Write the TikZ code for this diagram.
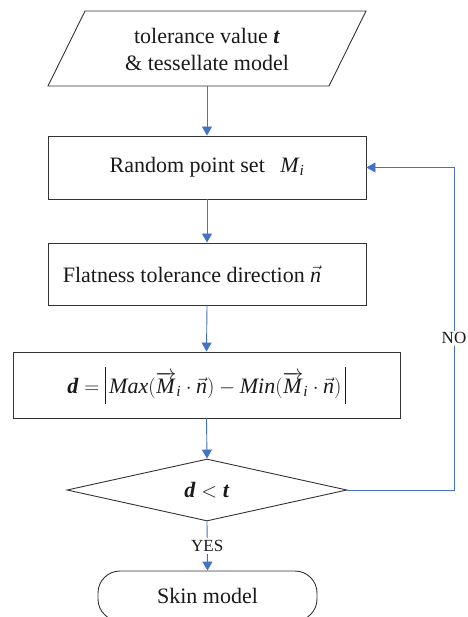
\documentclass[tikz,border=0pt]{standalone}
\usepackage{amsmath}
\usepackage{fontspec}
\setmainfont{Liberation Serif}
\usetikzlibrary{arrows.meta,shapes.geometric}
\definecolor{arrowblue}{HTML}{4472C4}
\definecolor{edgegray}{HTML}{333333}
\newcommand{\ti}[1]{\text{\textit{#1}}}
\newcommand{\tbi}[1]{\text{\textbf{\textit{#1}}}}
\newcommand{\absbar}{\rule[-10pt]{0.8pt}{37pt}}
\tikzset{
  box/.style={draw=edgegray, line width=0.9pt, inner sep=0pt, font=\fontsize{22}{27}\selectfont, text=black!90},
  flow/.style={draw=arrowblue, line width=0.9pt, -{Triangle[length=9pt,width=10pt]}},
  lbl/.style={fill=white, inner sep=2pt, font=\fontsize{17}{20}\selectfont, text=black!90}
}
\begin{document}
\begin{tikzpicture}[x=1pt,y=-1pt]
\useasboundingbox (0,0) rectangle (467,617);
\begin{scope}
\clip (0,0) rectangle (467,617);
% input parallelogram
\coordinate (p1) at (48,86);
\coordinate (p2) at (85,11);
\coordinate (p3) at (366,11);
\coordinate (p4) at (329,86);
\draw[draw=edgegray, line width=0.9pt] (p1) -- (p2) -- (p3) -- (p4) -- cycle;
\node[box, draw=none, align=center] (in) at (207,49) {tolerance value \textbf{\textit{t}}\\ \& tessellate model};
\coordinate (inb) at (207,86);
% boxes
\node[box, minimum width=318pt, minimum height=63pt] (b1) at (207,167.5) {Random point set\hspace{0.7em}$\ti{M}_{\ti{i}}$};
\node[box, minimum width=318pt, minimum height=62pt] (b2) at (207,274) {Flatness tolerance direction $\vec{\ti{n}}$\kern30pt};
\node[box, minimum width=387pt, minimum height=66pt] (b3) at (206.5,385)
  {$\tbi{d}=\absbar\,\ti{Max}(\overrightarrow{\ti{M}}_{\ti{i}}\cdot\vec{\ti{n}})-\ti{Min}(\overrightarrow{\ti{M}}_{\ti{i}}\cdot\vec{\ti{n}})\,\absbar$};
\node[box, diamond, minimum width=280pt, minimum height=62pt] (dia) at (207,490) {$\tbi{d}<\tbi{t}$};
\node[box, minimum width=219pt, minimum height=50pt, rounded corners=22pt] (skin) at (207.5,596) {Skin model};
% connectors
\draw[flow] (inb) -- (b1.north);
\draw[flow] (b1.south) -- (b2.north);
\draw[flow] (b2.south) -- (b3.north);
\draw[flow] (b3.south) -- (dia.north);
\draw[flow] (dia.south) -- node[lbl, pos=0.5] {YES} (skin.north);
\coordinate (c1) at (454,490);
\coordinate (c2) at (454,167.5);
\draw[flow] (dia.east) -- (c1) -- node[lbl, pos=0.47] {NO} (c2) -- (b1.east);
\end{scope}
\end{tikzpicture}
\end{document}
